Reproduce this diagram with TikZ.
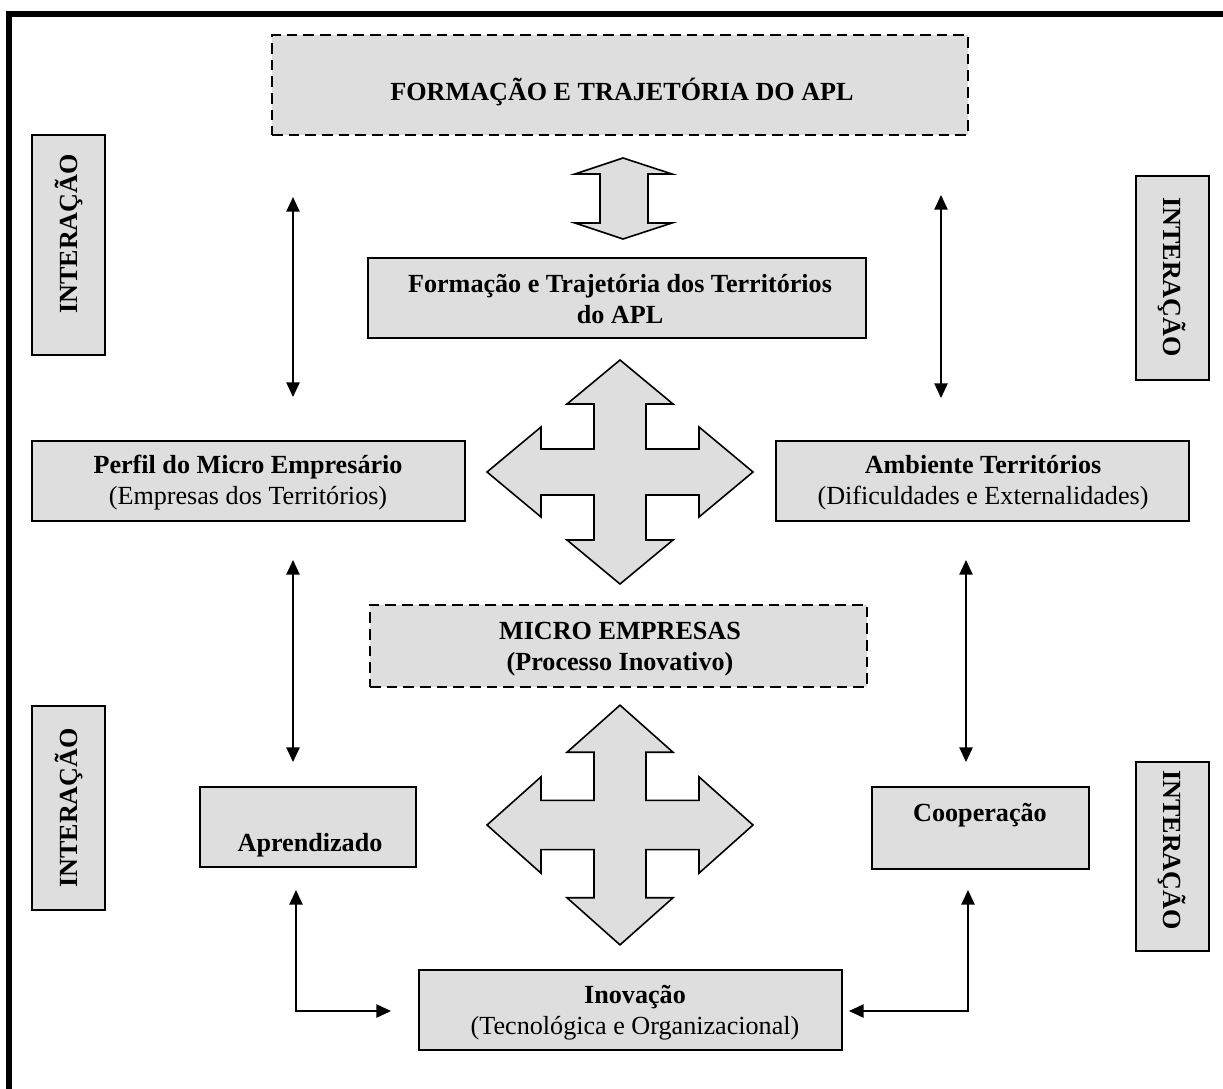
\documentclass[tikz,border=0pt]{standalone}
\usepackage{fontspec}
\setmainfont{Liberation Serif}
\usetikzlibrary{arrows.meta,calc}
\definecolor{boxgray}{HTML}{DEDEDE}
\begin{document}
\begin{tikzpicture}[x=0.75pt,y=-0.75pt,
  box/.style={draw=black, line width=1.2pt, fill=boxgray, inner sep=0pt},
  dbox/.style={box, dash pattern=on 8pt off 4.5pt},
  txt/.style={font=\fontsize{19.6}{23.2}\selectfont, align=center, inner sep=0pt},
  btxt/.style={txt, font=\fontsize{19.6}{23.2}\selectfont\bfseries},
  link/.style={line width=1.1pt,
    {Triangle[length=11pt,width=10pt]}-{Triangle[length=11pt,width=10pt]}},
  blk/.style={draw=black, line width=1.2pt, fill=boxgray, line join=miter}
]
\useasboundingbox (0,0) rectangle (1223,1088);
\fill[white] (0,0) rectangle (1223,1088);

% outer frame (only top and left edges fall inside the page)
\begin{scope}
  \clip (0,0) rectangle (1223,1088);
  \draw[line width=4.5pt] (9,14) rectangle (1300,1200);
\end{scope}

% ---- boxes ----
\node[dbox, minimum width=522pt, minimum height=75pt] (top) at (620,85) {};
\node[btxt] (toptxt) at (622,92) {FORMAÇÃO E TRAJETÓRIA DO APL};

\node[box, minimum width=373.5pt, minimum height=60pt] (traj) at (617,298) {};
\node[btxt] (trajtxt) at (620,299) {Formação e Trajetória dos Territórios\\do APL};

\node[box, minimum width=324.75pt, minimum height=60pt] (perfil) at (248.5,481) {};
\node[txt] (perfiltxt) at (248,483) {\bfseries Perfil do Micro Empresário\\(Empresas dos Territórios)};

\node[box, minimum width=309.75pt, minimum height=60pt] (amb) at (982.5,481) {};
\node[txt] (ambtxt) at (983,483) {\bfseries Ambiente Territórios\\(Dificuldades e Externalidades)};

\node[dbox, minimum width=372.75pt, minimum height=61.5pt] (micro) at (618.5,646) {};
\node[btxt] (microtxt) at (620,649) {MICRO EMPRESAS\\(Processo Inovativo)};

\node[box, minimum width=162pt, minimum height=60pt] (apr) at (308,827) {};
\node[btxt] (aprtxt) at (310,845) {Aprendizado};

\node[box, minimum width=162.75pt, minimum height=61.5pt] (coop) at (980.5,828) {};
\node[btxt] (cooptxt) at (980,815) {Cooperação};

\node[box, minimum width=317.25pt, minimum height=60pt] (inov) at (630.5,1010) {};
\node[txt] (inovtxt) at (635,1013) {\bfseries Inovação\\(Tecnológica e Organizacional)};

% ---- side labels ----
\node[box, minimum width=54.75pt, minimum height=165pt] (int1) at (68.5,245) {};
\node[btxt, rotate=90] (int1txt) at (69,234) {INTERAÇÃO};
\node[box, minimum width=54.75pt, minimum height=153pt] (int2) at (1172.5,278) {};
\node[btxt, rotate=-90] (int2txt) at (1172,277) {INTERAÇÃO};
\node[box, minimum width=54.75pt, minimum height=153pt] (int3) at (68.5,808) {};
\node[btxt, rotate=90] (int3txt) at (69,808) {INTERAÇÃO};
\node[box, minimum width=54.75pt, minimum height=141.75pt] (int4) at (1172.5,856.5) {};
\node[btxt, rotate=-90] (int4txt) at (1172,850) {INTERAÇÃO};

% ---- block arrows ----
\draw[blk] (623,158) -- (672,174) -- (648,174) -- (648,223) -- (672,223) -- (623,239)
  -- (575,223) -- (600,223) -- (600,174) -- (575,174) -- cycle;

\newcommand{\crossarrow}{%
  (0,-112) -- (53,-68) -- (26,-68) -- (26,-23) -- (79,-23) -- (79,-45) -- (133,0)
  -- (79,45) -- (79,23) -- (26,23) -- (26,68) -- (53,68) -- (0,112) -- (-53,68)
  -- (-26,68) -- (-26,23) -- (-79,23) -- (-79,45) -- (-133,0) -- (-79,-45)
  -- (-79,-23) -- (-26,-23) -- (-26,-68) -- (-53,-68) -- cycle}
\begin{scope}[shift={(620,472)}]
  \draw[blk] \crossarrow;
\end{scope}
\begin{scope}[shift={(620,825)}, yscale=1.07]
  \draw[blk] \crossarrow;
\end{scope}

% ---- connectors ----
\coordinate (a1s) at (293,197);  \coordinate (a1e) at (293,397);
\coordinate (a2s) at (941,195);  \coordinate (a2e) at (941,398);
\coordinate (a3s) at (293,560);  \coordinate (a3e) at (293,762);
\coordinate (a4s) at (966,560);  \coordinate (a4e) at (966,762);
\coordinate (b1s) at (296,890);  \coordinate (b1e) at (391,1011);
\coordinate (b2s) at (968,890);  \coordinate (b2e) at (849,1011);
\draw[link] (a1s) -- (a1e);
\draw[link] (a2s) -- (a2e);
\draw[link] (a3s) -- (a3e);
\draw[link] (a4s) -- (a4e);
\draw[link] (b1s) |- (b1e);
\draw[link] (b2s) |- (b2e);
\end{tikzpicture}
\end{document}
